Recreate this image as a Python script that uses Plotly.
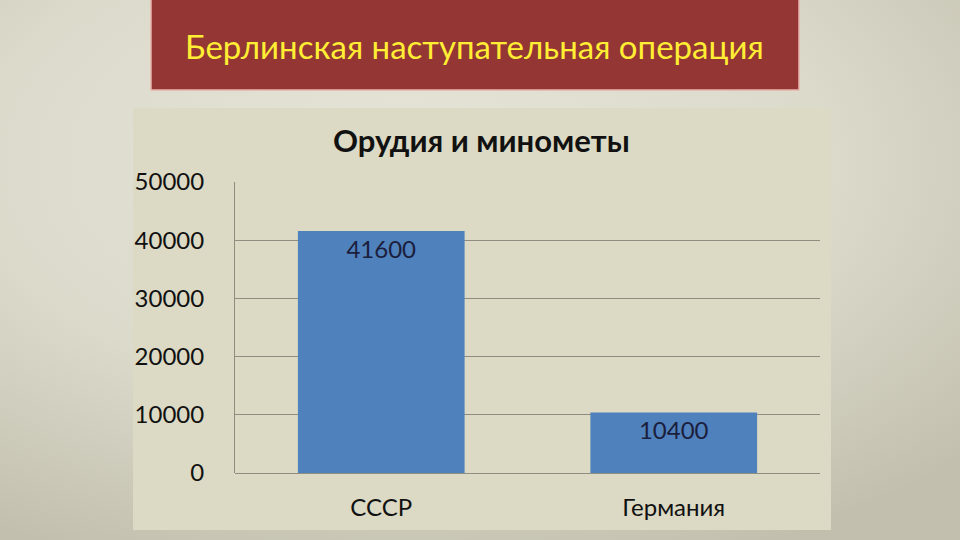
import base64
import plotly.graph_objects as go

categories = ["СССР", "Германия"]
values = [41600, 10400]
tick_vals = [0, 10000, 20000, 30000, 40000, 50000]
tick_text = ["0", "10000", "20000", "30000", "40000", "50000"]
slide_title = "Берлинская наступательная операция"
chart_title = "Орудия и минометы"

W, H = 960, 540
L, R, T, B = 235, 140, 182, 67
PW, PH = W - L - R, H - T - B


def px(x):
    return (x - L) / PW


def py(y):
    return (H - B - y) / PH


svg = f"""<svg xmlns='http://www.w3.org/2000/svg' width='{W}' height='{H}'>
<defs><radialGradient id='g' cx='0.42' cy='0.3' r='0.8'>
<stop offset='0' stop-color='#e5e4d8'/><stop offset='0.55' stop-color='#dcdacb'/>
<stop offset='1' stop-color='#c2bfae'/></radialGradient></defs>
<rect width='{W}' height='{H}' fill='url(#g)'/></svg>"""
bg_uri = "data:image/svg+xml;base64," + base64.b64encode(svg.encode()).decode()

font = "Lato, 'Open Sans', sans-serif"

fig = go.Figure()
fig.add_trace(go.Bar(
    x=categories, y=values,
    marker=dict(color="#4f81bd", line=dict(width=0)),
    text=[str(v) for v in values],
    textposition="inside", insidetextanchor="end",
    textfont=dict(family=font, size=24, color="#1b1e3c"),
    width=0.57,
))

fig.update_layout(
    width=W, height=H,
    margin=dict(l=L, r=R, t=T, b=B),
    paper_bgcolor="#dddbcc",
    plot_bgcolor="rgba(0,0,0,0)",
    showlegend=False,
    xaxis=dict(showgrid=False, showline=False, zeroline=False,
               tickfont=dict(family=font, size=24, color="#111"),
               ticklabelstandoff=18),
    yaxis=dict(range=[0, 50000], tickvals=tick_vals, ticktext=tick_text,
               showgrid=True, gridcolor="#8f8d80", gridwidth=1,
               zeroline=True, zerolinecolor="#8f8d80", zerolinewidth=1,
               showline=True, linecolor="#8f8d80", linewidth=1,
               tickfont=dict(family=font, size=24, color="#111"),
               ticklabelstandoff=25),
    images=[dict(source=bg_uri, xref="paper", yref="paper",
                 x=px(0), y=py(0), sizex=W / PW, sizey=H / PH,
                 xanchor="left", yanchor="top", sizing="stretch", layer="below")],
    shapes=[
        dict(type="rect", xref="paper", yref="paper", layer="below",
             x0=px(133), x1=px(831), y0=py(530), y1=py(108),
             fillcolor="#dcd9c4", line=dict(width=0)),
        dict(type="rect", xref="paper", yref="paper", layer="below",
             x0=px(151), x1=px(799), y0=py(90), y1=py(-5),
             fillcolor="#943634", line=dict(color="#e8b4ac", width=1.5)),
    ],
    annotations=[
        dict(text=slide_title, xref="paper", yref="paper", x=px(474), y=py(46),
             showarrow=False, xanchor="center", yanchor="middle",
             font=dict(family=font, size=33, color="#ffee33")),
        dict(text="<b>" + chart_title + "</b>", xref="paper", yref="paper",
             x=px(481), y=py(140), showarrow=False, xanchor="center", yanchor="middle",
             font=dict(family=font, size=31, color="#111")),
    ],
)

fig.write_html("out.html", config={"displayModeBar": False},
               post_script="document.body.style.margin='0';document.body.style.overflow='hidden';")
